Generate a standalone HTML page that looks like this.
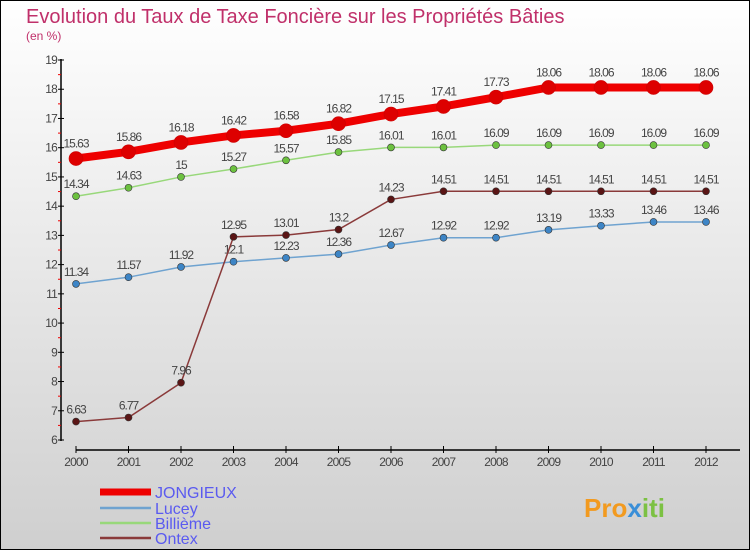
<!DOCTYPE html>
<html><head><meta charset="utf-8"><style>
html,body{margin:0;padding:0}
body{width:750px;height:550px;overflow:hidden;font-family:"Liberation Sans",sans-serif}
</style></head><body>
<svg id="chart" width="750" height="550" xmlns="http://www.w3.org/2000/svg">
<defs><linearGradient id="bg" x1="0" y1="0" x2="0" y2="1"><stop offset="0" stop-color="#ffffff"/><stop offset="1" stop-color="#cfcfcf"/></linearGradient></defs>
<rect x="0.5" y="0.5" width="749" height="549" fill="url(#bg)" stroke="#000"/>
<text x="26" y="23" font-size="20" fill="#c0306a">Evolution du Taux de Taxe Foncière sur les Propriétés Bâties</text>
<text x="26" y="40" font-size="12" fill="#c0306a">(en %)</text>
<g id="axes"></g><g id="series"></g><g id="legend"></g>
<text x="584" y="517" font-size="26" font-weight="bold" fill="#f29a1f">Pro<tspan fill="#3a8fd8">x</tspan><tspan fill="#7cc143">iti</tspan></text>
</svg>
<script>
const years=[2000,2001,2002,2003,2004,2005,2006,2007,2008,2009,2010,2011,2012];
const jongieux=[15.63,15.86,16.18,16.42,16.58,16.82,17.15,17.41,17.73,18.06,18.06,18.06,18.06];
const lucey=[11.34,11.57,11.92,12.1,12.23,12.36,12.67,12.92,12.92,13.19,13.33,13.46,13.46];
const billieme=[14.34,14.63,15,15.27,15.57,15.85,16.01,16.01,16.09,16.09,16.09,16.09,16.09];
const ontex=[6.63,6.77,7.96,12.95,13.01,13.2,14.23,14.51,14.51,14.51,14.51,14.51,14.51];
const yTicks=[6,7,8,9,10,11,12,13,14,15,16,17,18,19];
const seriesNames=["JONGIEUX","Lucey","Billième","Ontex"];
const NS="http://www.w3.org/2000/svg";
const X=i=>76+i*52.5;
const Y=v=>440-(v-6)*29.23;
function mk(tag,attrs,parent,text){const e=document.createElementNS(NS,tag);for(const k in attrs)e.setAttribute(k,attrs[k]);if(text!==undefined)e.textContent=text;parent.appendChild(e);return e;}
const ax=document.getElementById('axes');
let e=mk('line',{x1:61,y1:59,x2:61,y2:441,stroke:'#000','stroke-width':1.5},ax);


e=mk('line',{x1:76,y1:450,x2:740,y2:450,stroke:'#000','stroke-width':1.5},ax);


yTicks.forEach(t=>{const y=Y(t);
 mk('line',{x1:58,y1:y,x2:64,y2:y,stroke:'#000'},ax);
 if(t<19)mk('line',{x1:58,y1:y-14.6,x2:61,y2:y-14.6,stroke:'#e00'},ax);
 e=mk('text',{x:57,y:y+4,'font-size':12,'text-anchor':'end',fill:'#444','letter-spacing':'-0.8'},ax,String(t));
 
 
});
years.forEach((yr,i)=>{const x=X(i);
 mk('line',{x1:x,y1:446,x2:x,y2:453,stroke:'#000'},ax);
 e=mk('text',{x:x,y:466,'font-size':12,'text-anchor':'middle',fill:'#444','letter-spacing':'-0.8'},ax,String(yr));
 
 
});
const sg=document.getElementById('series');
const defs=[[jongieux,'#ee0000',8,7,'#dd0000'],[lucey,'#6fa3d0',1.5,3.5,'#3d85c6'],[billieme,'#98d87a',1.5,3.5,'#6cc13f'],[ontex,'#8a3a3a',1.5,3.5,'#5a1515']];
defs.forEach((d,si)=>{const [vals,col,w,r,dot]=d;
 const g=mk('g',{},sg);
 
 
 const pl=mk('polyline',{points:vals.map((v,i)=>X(i)+','+Y(v)).join(' '),fill:'none',stroke:col,'stroke-width':w},g);
 
 
 vals.forEach((v,i)=>{
  const c=mk('circle',{cx:X(i),cy:Y(v),r:r,fill:dot,stroke:si==0?'#c00':'#333','stroke-width':0.6},g);
  
  
  const t=mk('text',{x:X(i),y:Y(v)-(si==0?11:8),'font-size':12,'text-anchor':'middle',fill:'#444','letter-spacing':'-1'},g,String(v));
  
  
 });
});
const lg=document.getElementById('legend');
defs.forEach((d,si)=>{const y=[492,508,523,538][si];
 const l=mk('line',{x1:100,y1:y,x2:151,y2:y,stroke:d[1],'stroke-width':si==0?7:2.5},lg);
 
 
 const t=mk('text',{x:155,y:y+6,'font-size':16,fill:'#5a5af0'},lg,seriesNames[si]);
 
 
});
</script>
</body></html>
